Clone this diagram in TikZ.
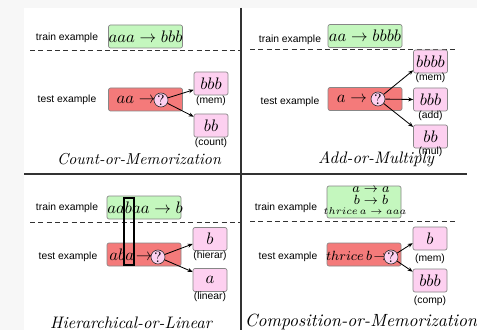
\documentclass[tikz,border=0pt]{standalone}
\usepackage{fontspec}
\newfontfamily\sfarial{Liberation Sans}
\usetikzlibrary{arrows.meta}
\definecolor{trainfill}{RGB}{196,247,190}
\definecolor{testfill}{RGB}{244,122,122}
\definecolor{pinkfill}{RGB}{253,208,240}
\definecolor{boxgray}{RGB}{135,135,135}
\definecolor{panelline}{RGB}{50,50,50}
\definecolor{outerbg}{RGB}{247,247,247}
\begin{document}
\begin{tikzpicture}[x=0.6pt,y=-0.6pt,
  lbl/.style={font=\sfarial\fontsize{6.2}{7}\selectfont, inner sep=0pt},
  tiny/.style={font=\sfarial\fontsize{6.2}{7}\selectfont, inner sep=0pt},
  trainbox/.style={draw=boxgray, fill=trainfill, rounded corners=1.2pt, minimum width=44.4pt, minimum height=13.8pt, inner sep=0pt},
  testbox/.style={draw=boxgray, fill=testfill, rounded corners=1.2pt, minimum width=44.4pt, minimum height=13.8pt, inner sep=0pt},
  pinkbox/.style={draw=boxgray, fill=pinkfill, rounded corners=1.2pt, minimum width=20.4pt, minimum height=13.8pt, inner sep=0pt},
  qnode/.style={circle, draw=panelline, fill=pinkfill, minimum size=8.4pt, inner sep=0pt, font=\small, line width=0.4pt},
  mtext/.style={inner sep=0pt},
  ttl/.style={inner sep=0pt},
  arr/.style={-{Stealth[length=3pt,width=2.4pt]}, line width=0.5pt},
  sep/.style={dashed, dash pattern=on 3pt off 2pt, line width=0.6pt, draw=panelline},
  frame/.style={line width=0.9pt, draw=panelline},
  hl/.style={draw=black, line width=0.9pt, minimum width=6pt, minimum height=40.2pt, inner sep=0pt}
]
\useasboundingbox (0,0) rectangle (477,330);
\fill[outerbg] (0,0) rectangle (477,330);
\fill[white] (24,8) rectangle (477,330);
% panel lines
\draw[frame] (241,8) -- (241,330);
\draw[frame] (24,174) -- (467,174);

% ---------- top-left ----------
\node[lbl] (tltr) at (67,38) {train example};
\node[trainbox] (tlg) at (145.5,36.5) {$aaa \to bbb$};
\draw[sep] (30,51) -- (240,51);
\node[lbl] (tlte) at (67,100) {test example};
\node[testbox] (tlr) at (145.5,99.5) {};
\node[mtext] (tlrt) at (136,100) {$aa\to$};
\node[qnode] (tlq) at (161,100) {?};
\node[pinkbox] (tlp1) at (211,83.5) {$bbb$};
\node[tiny, anchor=north] (tll1) at (211,96) {(mem)};
\node[pinkbox] (tlp2) at (211,125.5) {$bb$};
\node[tiny, anchor=north] (tll2) at (211,138) {(count)};
\draw[arr] (tlq) -- (tlp1.200);
\draw[arr] (tlq) -- (tlp2.153);
\node[ttl, font=\fontsize{9.5}{11}\selectfont\itshape] (tlt) at (139,159) {Count-or-Memorization};

% ---------- top-right ----------
\node[lbl] (trtr) at (290,40) {train example};
\node[trainbox] (trg) at (365,36) {$aa \to bbbb$};
\draw[sep] (250,50) -- (455,50);
\node[lbl] (trte) at (290,102) {test example};
\node[testbox] (trr) at (365,99) {};
\node[mtext] (trrt) at (352,99) {$a\to$};
\node[qnode] (trq) at (378,99) {?};
\node[pinkbox] (trp1) at (430.5,61.5) {$bbbb$};
\node[tiny, anchor=north] (trl1) at (430.5,73) {(mem)};
\node[pinkbox] (trp2) at (430.5,99.5) {$bbb$};
\node[tiny, anchor=north] (trl2) at (430.5,111) {(add)};
\node[pinkbox] (trp3) at (430.5,136.5) {$bb$};
\node[tiny, anchor=north] (trl3) at (430.5,147) {(mul)};
\draw[arr] (trq) -- (trp1.207);
\draw[arr] (trq) -- (trp2.180);
\draw[arr] (trq) -- (trp3.151);
\node[ttl, font=\fontsize{10}{12}\selectfont\itshape] (trt) at (376,159) {Add-or-Multiply};

% ---------- bottom-left ----------
\node[lbl] (bltr) at (67,208) {train example};
\node[trainbox] (blg) at (144,207.5) {};
\node[mtext] (blgt) at (145,208) {$aabaa \to b$};
\draw[sep] (30,222) -- (240,222);
\node[lbl] (blte) at (68,257) {test example};
\node[testbox] (blr) at (144,254.5) {};
\node[mtext, anchor=west] (blrt) at (109,255) {$aba\!\to$};
\node[qnode] (blq) at (158,257) {?};
\node[hl] (blh) at (129,231.5) {};
\node[pinkbox] (blp1) at (210,239) {$b$};
\node[tiny, anchor=north] (bll1) at (210,251) {(hierar)};
\node[pinkbox] (blp2) at (210,280) {$a$};
\node[tiny, anchor=north] (bll2) at (210,292) {(linear)};
\draw[arr] (blq) -- (blp1.196);
\draw[arr] (blq) -- (blp2.155);
\node[ttl, font=\fontsize{10}{12}\selectfont\itshape] (blt) at (131,323) {Hierarchical-or-Linear};

% ---------- bottom-right ----------
\node[lbl] (brtr) at (286,208) {train example};
\node[trainbox, minimum height=19.2pt] (brg) at (364,202) {};
\node[mtext, font=\fontsize{8.5}{9}\selectfont] (brg1) at (371,190) {$a\to a$};
\node[mtext, font=\fontsize{8.5}{9}\selectfont] (brg2) at (371,200) {$b\to b$};
\node[mtext, font=\fontsize{6}{7}\selectfont] (brg3) at (365,211.5) {$thrice\,a\to aaa$};
\draw[sep] (250,221) -- (455,221);
\node[lbl] (brte) at (288,257) {test example};
\node[testbox] (brr) at (364,254.5) {};
\node[mtext, font=\fontsize{8}{9}\selectfont] (brrt) at (357,256) {$thrice\,b\!\to$};
\node[qnode] (brq) at (391,257) {?};
\node[pinkbox] (brp1) at (430,238.5) {$b$};
\node[tiny, anchor=north] (brl1) at (430,254) {(mem)};
\node[pinkbox] (brp2) at (430,280.5) {$bbb$};
\node[tiny, anchor=north] (brl2) at (430,296) {(comp)};
\draw[arr] (brq) -- (brp1.195);
\draw[arr] (brq) -- (brp2.153);
\node[ttl, font=\fontsize{10.6}{12}\selectfont\itshape] (brt) at (361,322) {Composition-or-Memorization};
\end{tikzpicture}
\end{document}
